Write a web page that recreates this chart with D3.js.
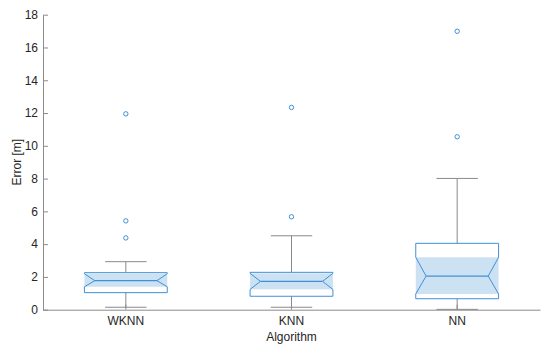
<!DOCTYPE html>
<html>
<head>
<meta charset="utf-8">
<script src="https://cdn.jsdelivr.net/npm/d3@7"></script>
<style>
  body { margin: 0; background: #fff; }
  text { font-family: "Liberation Sans", Arial, sans-serif; fill: #262626; }
</style>
</head>
<body>
<script>
var categories = ["WKNN", "KNN", "NN"];
var q1 = [1.04, 0.82, 0.67];
var medians = [1.77, 1.73, 2.05];
var q3 = [2.26, 2.28, 4.05];
var notchLo = [1.40, 1.24, 0.96];
var notchHi = [2.20, 2.22, 3.20];
var whiskerLo = [0.15, 0.15, 0.02];
var whiskerHi = [2.93, 4.51, 8.01];
var outliers = [[11.95, 5.42, 4.38], [12.34, 5.67], [16.99, 10.55]];
var yTicks = [0, 2, 4, 6, 8, 10, 12, 14, 16, 18];

var W = 550, H = 351;
var mLeft = 43, mRight = 540, mTop = 14.7, mBottom = 309.7;

var svg = d3.select("body").append("svg")
    .attr("width", W)
    .attr("height", H);

var x = d3.scaleBand().domain(categories).range([mLeft, mRight]).padding(0);
var y = d3.scaleLinear().domain([0, 18]).range([mBottom, mTop]);

var boxW = x.bandwidth() * 0.5;
var capW = boxW * 0.5;
var indent = boxW * 0.125;
var blue = "#3f90d8", fill = "#cce2f3", grey = "#8a8a8a";

// axes
var yAxis = svg.append("g").attr("transform", "translate(" + mLeft + ",0)")
    .call(d3.axisLeft(y).tickValues(yTicks).tickSizeInner(-5).tickSizeOuter(0).tickPadding(5));
var xAxis = svg.append("g").attr("transform", "translate(0," + mBottom + ")")
    .call(d3.axisBottom(x).tickSizeInner(-5).tickSizeOuter(0).tickPadding(7));
[yAxis, xAxis].forEach(function (g) {
    g.select(".domain").attr("stroke", "#8c8c8c");
    g.selectAll(".tick line").attr("stroke", "#8c8c8c");
    g.selectAll(".tick text").attr("font-size", "12px").attr("fill", "#262626")
        .style("font-family", "'Liberation Sans', Arial, sans-serif");
});

svg.append("text")
    .attr("x", (mLeft + mRight) / 2).attr("y", 341)
    .attr("text-anchor", "middle").attr("font-size", "12px")
    .text("Algorithm");
svg.append("text")
    .attr("transform", "translate(21," + ((mTop + mBottom) / 2) + ") rotate(-90)")
    .attr("text-anchor", "middle").attr("font-size", "12px")
    .text("Error [m]");

var groups = svg.selectAll("g.box")
    .data(categories)
    .enter().append("g").attr("class", "box");

groups.each(function (c, i) {
    var g = d3.select(this);
    var cx = x(c) + x.bandwidth() / 2;
    var x0 = cx - boxW / 2, x1 = cx + boxW / 2;

    // whiskers
    g.append("line").attr("x1", cx).attr("x2", cx)
        .attr("y1", y(q3[i])).attr("y2", y(whiskerHi[i]))
        .attr("stroke", grey).attr("stroke-width", 1);
    g.append("line").attr("x1", cx).attr("x2", cx)
        .attr("y1", y(q1[i])).attr("y2", y(whiskerLo[i]))
        .attr("stroke", grey).attr("stroke-width", 1);
    [whiskerHi[i], whiskerLo[i]].forEach(function (v) {
        g.append("line").attr("x1", cx - capW / 2).attr("x2", cx + capW / 2)
            .attr("y1", y(v)).attr("y2", y(v))
            .attr("stroke", grey).attr("stroke-width", 1);
    });

    // notch fill
    g.append("rect")
        .attr("x", x0).attr("width", boxW)
        .attr("y", y(notchHi[i])).attr("height", y(notchLo[i]) - y(notchHi[i]))
        .attr("fill", fill);

    // notched outline
    var pts = [
        [x0, y(q3[i])], [x1, y(q3[i])], [x1, y(notchHi[i])],
        [x1 - indent, y(medians[i])], [x1, y(notchLo[i])], [x1, y(q1[i])],
        [x0, y(q1[i])], [x0, y(notchLo[i])], [x0 + indent, y(medians[i])],
        [x0, y(notchHi[i])]
    ];
    g.append("path")
        .attr("d", d3.line()(pts) + "Z")
        .attr("fill", "none").attr("stroke", blue).attr("stroke-width", 1);

    // median
    g.append("line").attr("x1", x0 + indent).attr("x2", x1 - indent)
        .attr("y1", y(medians[i])).attr("y2", y(medians[i]))
        .attr("stroke", blue).attr("stroke-width", 1.3);

    // outliers
    g.selectAll("circle").data(outliers[i]).enter().append("circle")
        .attr("cx", cx).attr("cy", function (d) { return y(d); })
        .attr("r", 2.2).attr("fill", "none").attr("stroke", blue).attr("stroke-width", 1);
});
</script>
</body>
</html>
